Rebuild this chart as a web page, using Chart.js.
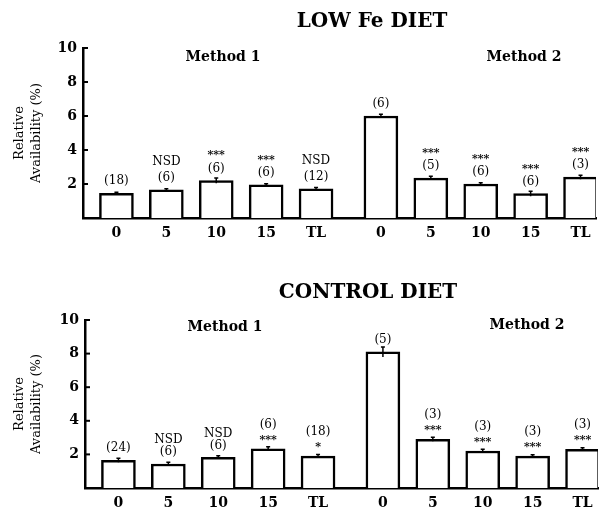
<!DOCTYPE html>
<html>
<head>
<meta charset="utf-8">
<script src="https://cdn.jsdelivr.net/npm/chart.js@4.4.1/dist/chart.umd.min.js"></script>
<style>
  html, body { margin: 0; padding: 0; background: #fff; }
  .panel { position: absolute; left: 0; }
  #top { top: 0; }
  #bottom { top: 255px; }
</style>
</head>
<body>
<div class="panel" id="top"><canvas id="lowFe" width="604" height="255"></canvas></div>
<div class="panel" id="bottom"><canvas id="control" width="604" height="252"></canvas></div>
<script>
// doses on the x axis (same for both methods)
const doses = ["0", "5", "10", "15", "TL"];
const yTicks = [2, 4, 6, 8, 10];

// LOW Fe DIET
const lowFeMethod1 = [1.45, 1.65, 2.2, 1.95, 1.72];
const lowFeMethod2 = [6.0, 2.35, 2.0, 1.43, 2.4];
const lowFeErr1 = [0.07, 0.07, 0.15, 0.07, 0.07];
const lowFeErr2 = [0.1, 0.1, 0.07, 0.15, 0.12];
const lowFeNotes1 = [["(18)"], ["NSD", "(6)"], ["***", "(6)"], ["***", "(6)"], ["NSD", "(12)"]];
const lowFeNotes2 = [["(6)"], ["***", "(5)"], ["***", "(6)"], ["***", "(6)"], ["***", "(3)"]];

// CONTROL DIET
const controlMethod1 = [1.65, 1.43, 1.82, 2.33, 1.9];
const controlMethod2 = [8.1, 2.9, 2.2, 1.9, 2.3];
const controlErr1 = [0.12, 0.1, 0.1, 0.12, 0.1];
const controlErr2 = [0.3, 0.12, 0.1, 0.08, 0.1];
const controlNotes1 = [["(24)"], ["NSD", "(6)"], ["NSD", "(6)"], ["(6)", "***"], ["(18)", "*"]];
const controlNotes2 = [["(5)"], ["(3)", "***"], ["(3)", "***"], ["(3)", "***"], ["(3)", "***"]];

const FONT = '"DejaVu Serif", "Liberation Serif", serif';
const GROUP_GAP = 1.3; // method 2 starts a bit further right than one slot

const slots1 = doses.map((d, i) => i);
const slots2 = doses.map((d, i) => doses.length - 1 + GROUP_GAP + i);
const allSlots = slots1.concat(slots2);
const allLabels = doses.concat(doses);

// draws inward ticks, error marks, the n / significance notes and the headings
const annotate = {
  id: "annotate",
  afterDraw(chart, args, o) {
    const ctx = chart.ctx;
    const xs = chart.scales.x;
    const ys = chart.scales.y;
    ctx.save();
    ctx.strokeStyle = "#000";
    ctx.fillStyle = "#000";

    ctx.lineWidth = 2;
    yTicks.forEach((v) => {
      const py = ys.getPixelForValue(v);
      ctx.beginPath();
      ctx.moveTo(xs.left, py);
      ctx.lineTo(xs.left + 5, py);
      ctx.stroke();
    });

    ctx.textAlign = "center";
    ctx.textBaseline = "middle";
    [0, 1].forEach((di) => {
      const meta = chart.getDatasetMeta(di);
      meta.data.forEach((bar, i) => {
        const v = chart.data.datasets[di].data[i].y;
        const err = o.errors[di][i];
        const yHi = ys.getPixelForValue(v + err);
        const yLo = ys.getPixelForValue(v - err);
        ctx.lineWidth = 1.5;
        ctx.beginPath();
        ctx.moveTo(bar.x, yHi);
        ctx.lineTo(bar.x, yLo);
        ctx.moveTo(bar.x - 2, yHi);
        ctx.lineTo(bar.x + 2, yHi);
        ctx.stroke();

        const lines = o.notes[di][i];
        const top = bar.y;
        for (let k = lines.length - 1; k >= 0; k--) {
          const txt = lines[k];
          let y = top - o.noteOffset - (lines.length - 1 - k) * o.noteGap;
          if (txt.indexOf("*") >= 0) {
            ctx.font = "bold 11px " + FONT;
            y += 3;
          } else {
            ctx.font = "12px " + FONT;
          }
          ctx.fillText(txt, bar.x, y);
        }
      });
    });

    ctx.font = "bold 20px " + FONT;
    ctx.fillText(o.title, o.titleX, o.titleY);
    ctx.font = "bold 14px " + FONT;
    ctx.fillText("Method 1", o.method1X, o.method1Y);
    ctx.fillText("Method 2", o.method2X, o.method2Y);
    ctx.restore();
  },
};

function makeChart(canvasId, m1, m2, err1, err2, notes1, notes2, box, heading) {
  const ctx = document.getElementById(canvasId).getContext("2d");
  return new Chart(ctx, {
    type: "bar",
    data: {
      datasets: [
        {
          label: "Method 1",
          data: m1.map((v, i) => ({ x: slots1[i], y: v })),
          backgroundColor: "#fff",
          borderColor: "#000",
          borderWidth: 2.5,
          borderSkipped: "bottom",
          barThickness: 34,
          grouped: false,
        },
        {
          label: "Method 2",
          data: m2.map((v, i) => ({ x: slots2[i], y: v })),
          backgroundColor: "#fff",
          borderColor: "#000",
          borderWidth: 2.5,
          borderSkipped: "bottom",
          barThickness: 34,
          grouped: false,
        },
      ],
    },
    options: {
      responsive: false,
      animation: false,
      layout: { padding: { top: box.top, right: box.right, bottom: 0, left: 0 } },
      plugins: {
        legend: { display: false },
        tooltip: { enabled: false },
        annotate: {
          errors: [err1, err2],
          notes: [notes1, notes2],
          noteOffset: box.noteOffset,
          noteGap: box.noteGap,
          ...heading,
        },
      },
      scales: {
        x: {
          type: "linear",
          offset: false,
          min: -0.67,
          max: allSlots[allSlots.length - 1] + 0.31,
          afterBuildTicks: (scale) => {
            scale.ticks = allSlots.map((v) => ({ value: v }));
          },
          afterFit: (scale) => {
            scale.height = box.xHeight;
          },
          ticks: {
            autoSkip: false,
            maxRotation: 0,
            padding: 7,
            color: "#000",
            font: { family: FONT, size: 14, weight: "bold" },
            callback: (value, index) => allLabels[index],
          },
          grid: { display: false, drawTicks: false, offset: false },
          border: { display: true, color: "#000", width: 2.5 },
        },
        y: {
          min: 0,
          max: 10,
          afterBuildTicks: (scale) => {
            scale.ticks = yTicks.map((v) => ({ value: v }));
          },
          afterFit: (scale) => {
            scale.width = box.left;
          },
          ticks: {
            padding: 6,
            color: "#000",
            font: { family: FONT, size: 14, weight: "bold" },
          },
          grid: { display: false, drawTicks: false },
          border: { display: true, color: "#000", width: 2.5 },
          title: {
            display: true,
            text: ["Relative", "Availability (%)"],
            color: "#000",
            font: { family: FONT, size: 13, lineHeight: 1.3 },
            padding: { top: 11, bottom: 0 },
          },
        },
      },
    },
    plugins: [annotate],
  });
}

makeChart("lowFe", lowFeMethod1, lowFeMethod2, lowFeErr1, lowFeErr2, lowFeNotes1, lowFeNotes2,
  { top: 48, right: 8, left: 83, xHeight: 37, noteOffset: 12, noteGap: 16 },
  { title: "LOW Fe DIET", titleX: 372, titleY: 22, method1X: 223, method1Y: 57, method2X: 524, method2Y: 57 });

makeChart("control", controlMethod1, controlMethod2, controlErr1, controlErr2, controlNotes1, controlNotes2,
  { top: 65, right: 6, left: 85, xHeight: 19, noteOffset: 12, noteGap: 12 },
  { title: "CONTROL DIET", titleX: 368, titleY: 38, method1X: 225, method1Y: 72, method2X: 527, method2Y: 70 });
</script>
</body>
</html>
